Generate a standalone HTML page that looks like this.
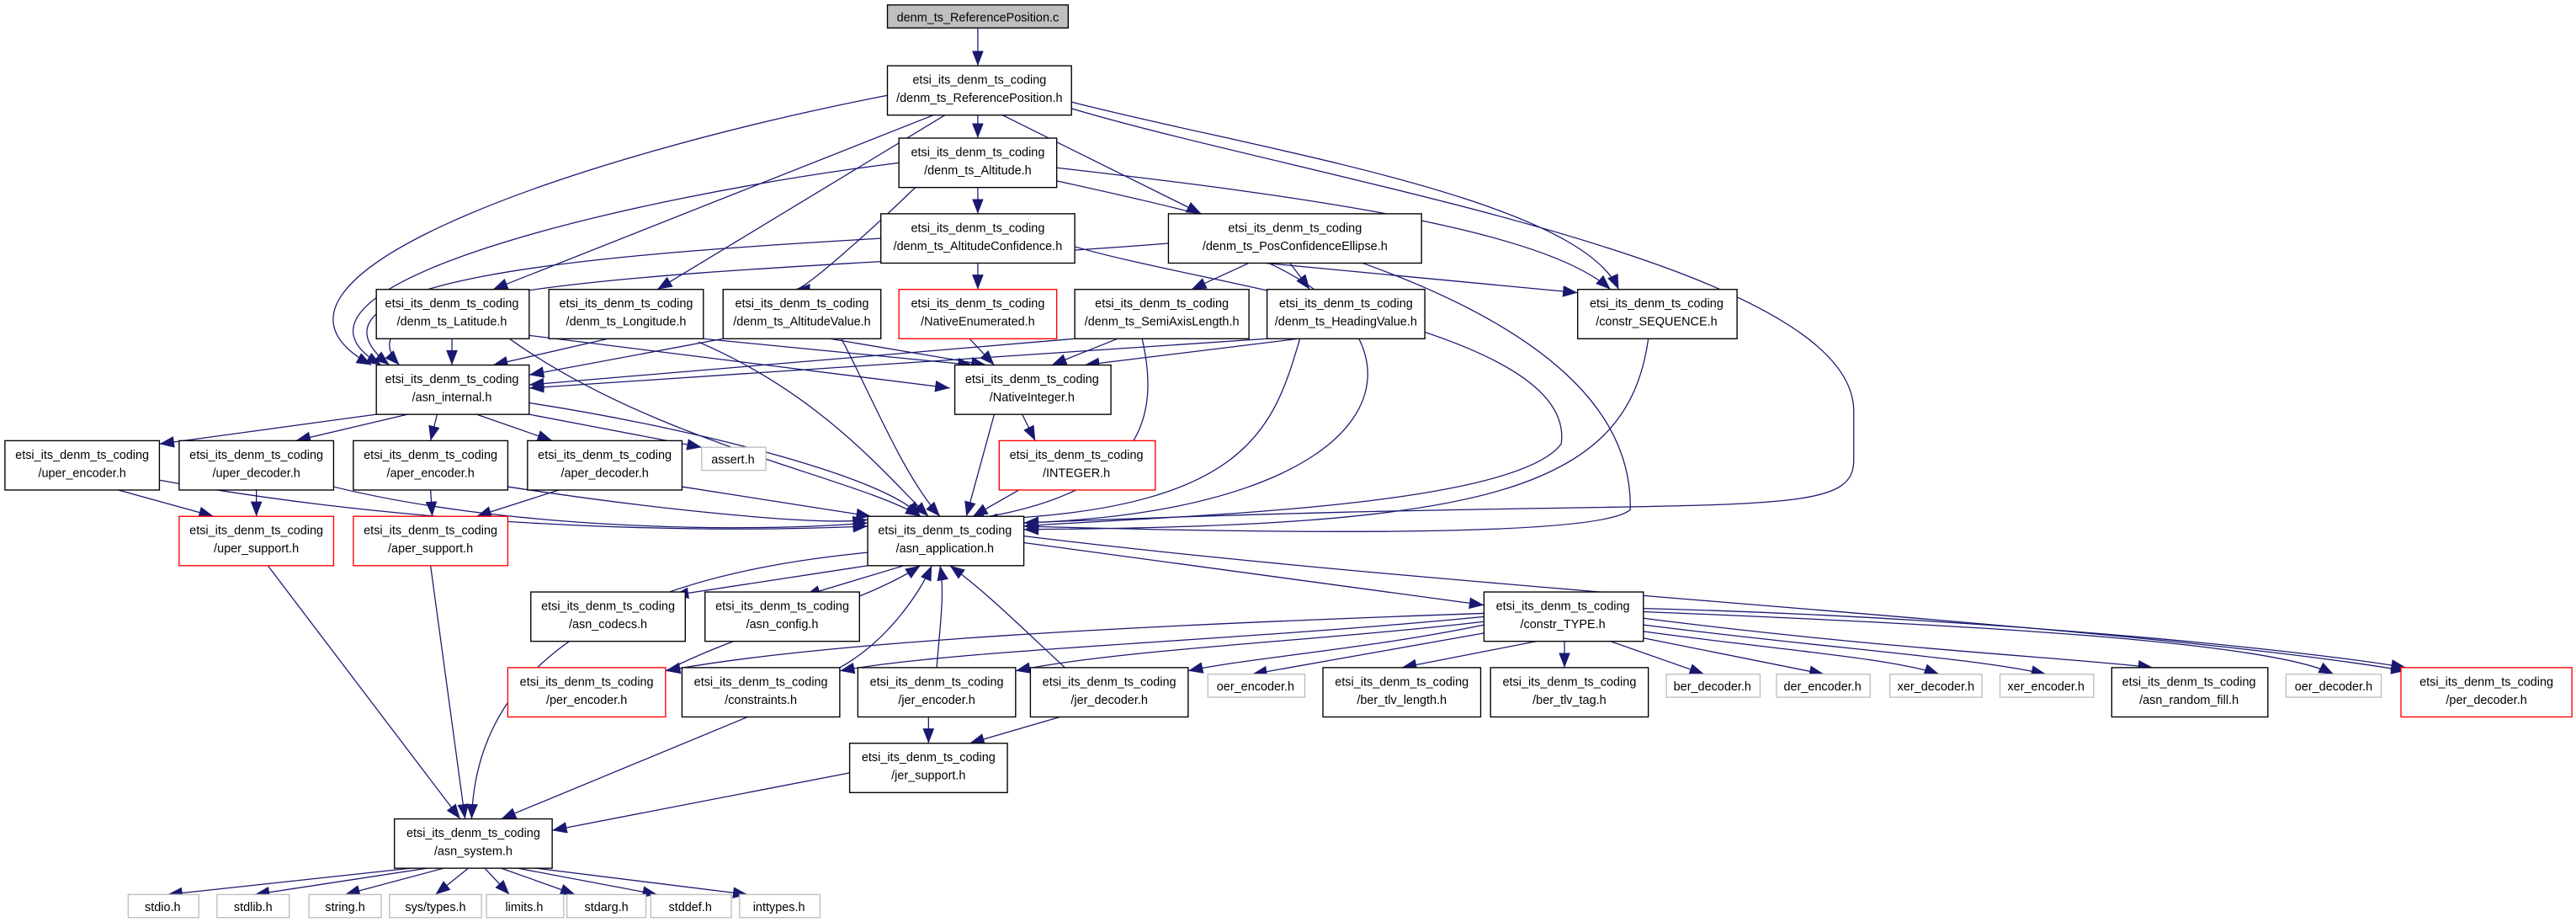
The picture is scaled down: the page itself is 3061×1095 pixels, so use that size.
<!DOCTYPE html>
<html><head><meta charset="utf-8"><style>
html,body{margin:0;padding:0;background:#fff;}
svg{display:block;}
text{font-family:"Liberation Sans","DejaVu Sans",sans-serif;font-size:7.4px;fill:#000;text-anchor:middle;}
.e{fill:none;stroke:#191970;stroke-width:0.65;marker-end:url(#a);}
.n{fill:#fff;stroke:#000;stroke-width:0.7;}
.g{fill:#fff;stroke:#bfbfbf;stroke-width:0.7;}
.r{fill:#fff;stroke:#ff0000;stroke-width:0.7;}
</style></head><body>
<svg width="3061" height="1095" viewBox="0 0 1567.5 560.7" preserveAspectRatio="none" xmlns="http://www.w3.org/2000/svg">
<defs><marker id="a" markerUnits="userSpaceOnUse" markerWidth="10" markerHeight="8" refX="9" refY="3.5" orient="auto"><path d="M0,0L9,3.5L0,7z" fill="#191970"/></marker></defs>
<rect width="1567.5" height="560.7" fill="#fff"/>
<!-- edges -->
<path class="e" d="M595,17 L595,40"/>
<path class="e" d="M595,70 L595,84"/>
<path class="e" d="M610,70 L731,130"/>
<path class="e" d="M568,70 L300,176"/>
<path class="e" d="M575,70 L400,176"/>
<path class="e" d="M540,58 C350,95 130,170 226,222"/>
<path class="e" d="M652,62 C760,90 960,120 985,176"/>
<path class="e" d="M652,66 C800,110 1128,160 1128,250 L1128,280 C1128,320 1050,300 623,318"/>
<path class="e" d="M595,114 L595,130"/>
<path class="e" d="M557,114 C530,140 490,176 484,176"/>
<path class="e" d="M547,99 C380,120 150,175 232,222"/>
<path class="e" d="M643,102 C800,120 940,140 980,176"/>
<path class="e" d="M643,110 C780,140 995,190 992,310 C970,330 700,322 623,320"/>
<path class="e" d="M595,160 L595,176"/>
<path class="e" d="M536,145 C360,155 170,170 237,222"/>
<path class="e" d="M654,150 C740,175 960,200 950,270 C920,310 700,314 623,320"/>
<path class="e" d="M760,160 L725,176"/>
<path class="e" d="M785,160 L797,176"/>
<path class="e" d="M770,160 L960,178"/>
<path class="e" d="M711,148 C500,165 190,165 243,222"/>
<path class="e" d="M772,160 C880,210 850,310 623,318"/>
<path class="e" d="M275,206 L275,222"/>
<path class="e" d="M322,204 L578,236"/>
<path class="e" d="M310,206 C400,270 520,290 560,314"/>
<path class="e" d="M370,206 L300,222"/>
<path class="e" d="M428,206 L592,222"/>
<path class="e" d="M425,208 C500,240 540,290 565,314"/>
<path class="e" d="M440,206 L322,228"/>
<path class="e" d="M505,206 L600,222"/>
<path class="e" d="M512,206 C530,240 550,290 572,314"/>
<path class="e" d="M590,206 L605,222"/>
<path class="e" d="M654,206 L322,234"/>
<path class="e" d="M680,206 L640,222"/>
<path class="e" d="M695,206 C705,250 700,300 590,316"/>
<path class="e" d="M771,206 L322,236"/>
<path class="e" d="M790,206 L660,222"/>
<path class="e" d="M791,206 C775,260 760,310 598,316"/>
<path class="e" d="M1003,206 C990,300 900,320 623,322"/>
<path class="e" d="M622,252 L630,268"/>
<path class="e" d="M605,252 L588,314"/>
<path class="e" d="M620,298 L592,314"/>
<path class="e" d="M229,252 L97,270"/>
<path class="e" d="M248,252 L180,268"/>
<path class="e" d="M266,252 L262,268"/>
<path class="e" d="M290,252 L336,268"/>
<path class="e" d="M322,252 L427,272"/>
<path class="e" d="M322,245 C420,260 540,290 560,314"/>
<path class="e" d="M72,298 L130,314"/>
<path class="e" d="M97,292 C250,320 420,325 528,320"/>
<path class="e" d="M156,298 L156,314"/>
<path class="e" d="M203,296 C300,320 440,325 528,318"/>
<path class="e" d="M262,298 L263,314"/>
<path class="e" d="M309,296 C400,310 500,320 528,316"/>
<path class="e" d="M340,298 L290,314"/>
<path class="e" d="M415,296 L530,314"/>
<path class="e" d="M163,344 L280,498"/>
<path class="e" d="M262,344 L283,498"/>
<path class="e" d="M528,336 C380,350 290,400 287,498"/>
<path class="e" d="M528,344 L410,362"/>
<path class="e" d="M550,344 L490,362"/>
<path class="e" d="M623,330 L903,368"/>
<path class="e" d="M623,326 C900,360 1300,380 1464,408"/>
<path class="e" d="M405,408 C460,380 520,370 560,344"/>
<path class="e" d="M511,406 C540,390 560,360 567,344"/>
<path class="e" d="M570,406 C572,380 575,360 572,344"/>
<path class="e" d="M648,406 C620,380 600,360 578,344"/>
<path class="e" d="M903,373 C700,380 500,390 405,408"/>
<path class="e" d="M903,375 C750,390 580,395 511,408"/>
<path class="e" d="M903,378 C800,390 680,395 618,408"/>
<path class="e" d="M903,380 C830,395 760,400 723,408"/>
<path class="e" d="M903,385 L762,410"/>
<path class="e" d="M935,390 L853,406"/>
<path class="e" d="M952,390 L952,406"/>
<path class="e" d="M980,390 L1037,410"/>
<path class="e" d="M1000,388 L1110,410"/>
<path class="e" d="M1000,384 C1080,395 1150,400 1180,410"/>
<path class="e" d="M1000,380 C1120,395 1200,400 1245,410"/>
<path class="e" d="M1000,376 C1150,395 1260,400 1310,406"/>
<path class="e" d="M1000,372 C1200,380 1380,390 1420,410"/>
<path class="e" d="M1000,370 C1200,375 1400,395 1464,406"/>
<path class="e" d="M455,436 L305,498"/>
<path class="e" d="M565,436 L565,452"/>
<path class="e" d="M645,436 L590,452"/>
<path class="e" d="M517,470 L336,505"/>
<path class="e" d="M250,528 L102,544"/>
<path class="e" d="M260,528 L155,544"/>
<path class="e" d="M270,528 L210,544"/>
<path class="e" d="M285,528 L265,544"/>
<path class="e" d="M295,528 L310,544"/>
<path class="e" d="M305,528 L350,544"/>
<path class="e" d="M315,528 L400,544"/>
<path class="e" d="M326,528 L455,544"/>
<!-- nodes -->
<rect x="540" y="3" width="110" height="14" fill="#bfbfbf" stroke="#000" stroke-width="0.7"/><text x="595" y="13">denm_ts_ReferencePosition.c</text>
<rect class="n" x="540" y="40" width="112" height="30"/><text x="596" y="51">etsi_its_denm_ts_coding</text><text x="596" y="62">/denm_ts_ReferencePosition.h</text>
<rect class="n" x="547" y="84" width="96" height="30"/><text x="595" y="95">etsi_its_denm_ts_coding</text><text x="595" y="106">/denm_ts_Altitude.h</text>
<rect class="n" x="536" y="130" width="118" height="30"/><text x="595" y="141">etsi_its_denm_ts_coding</text><text x="595" y="152">/denm_ts_AltitudeConfidence.h</text>
<rect class="n" x="711" y="130" width="154" height="30"/><text x="788" y="141">etsi_its_denm_ts_coding</text><text x="788" y="152">/denm_ts_PosConfidenceEllipse.h</text>
<rect class="n" x="229" y="176" width="93" height="30"/><text x="275" y="187">etsi_its_denm_ts_coding</text><text x="275" y="198">/denm_ts_Latitude.h</text>
<rect class="n" x="334" y="176" width="94" height="30"/><text x="381" y="187">etsi_its_denm_ts_coding</text><text x="381" y="198">/denm_ts_Longitude.h</text>
<rect class="n" x="440" y="176" width="96" height="30"/><text x="488" y="187">etsi_its_denm_ts_coding</text><text x="488" y="198">/denm_ts_AltitudeValue.h</text>
<rect class="r" x="547" y="176" width="96" height="30"/><text x="595" y="187">etsi_its_denm_ts_coding</text><text x="595" y="198">/NativeEnumerated.h</text>
<rect class="n" x="654" y="176" width="106" height="30"/><text x="707" y="187">etsi_its_denm_ts_coding</text><text x="707" y="198">/denm_ts_SemiAxisLength.h</text>
<rect class="n" x="771" y="176" width="96" height="30"/><text x="819" y="187">etsi_its_denm_ts_coding</text><text x="819" y="198">/denm_ts_HeadingValue.h</text>
<rect class="n" x="960" y="176" width="97" height="30"/><text x="1008" y="187">etsi_its_denm_ts_coding</text><text x="1008" y="198">/constr_SEQUENCE.h</text>
<rect class="n" x="229" y="222" width="93" height="30"/><text x="275" y="233">etsi_its_denm_ts_coding</text><text x="275" y="244">/asn_internal.h</text>
<rect class="n" x="581" y="222" width="95" height="30"/><text x="628" y="233">etsi_its_denm_ts_coding</text><text x="628" y="244">/NativeInteger.h</text>
<rect class="n" x="3" y="268" width="94" height="30"/><text x="50" y="279">etsi_its_denm_ts_coding</text><text x="50" y="290">/uper_encoder.h</text>
<rect class="n" x="109" y="268" width="94" height="30"/><text x="156" y="279">etsi_its_denm_ts_coding</text><text x="156" y="290">/uper_decoder.h</text>
<rect class="n" x="215" y="268" width="94" height="30"/><text x="262" y="279">etsi_its_denm_ts_coding</text><text x="262" y="290">/aper_encoder.h</text>
<rect class="n" x="321" y="268" width="94" height="30"/><text x="368" y="279">etsi_its_denm_ts_coding</text><text x="368" y="290">/aper_decoder.h</text>
<rect class="g" x="427" y="272" width="39" height="14"/><text x="446" y="282">assert.h</text>
<rect class="r" x="608" y="268" width="95" height="30"/><text x="655" y="279">etsi_its_denm_ts_coding</text><text x="655" y="290">/INTEGER.h</text>
<rect class="r" x="109" y="314" width="94" height="30"/><text x="156" y="325">etsi_its_denm_ts_coding</text><text x="156" y="336">/uper_support.h</text>
<rect class="r" x="215" y="314" width="94" height="30"/><text x="262" y="325">etsi_its_denm_ts_coding</text><text x="262" y="336">/aper_support.h</text>
<rect class="n" x="528" y="314" width="95" height="30"/><text x="575" y="325">etsi_its_denm_ts_coding</text><text x="575" y="336">/asn_application.h</text>
<rect class="n" x="323" y="360" width="94" height="30"/><text x="370" y="371">etsi_its_denm_ts_coding</text><text x="370" y="382">/asn_codecs.h</text>
<rect class="n" x="429" y="360" width="94" height="30"/><text x="476" y="371">etsi_its_denm_ts_coding</text><text x="476" y="382">/asn_config.h</text>
<rect class="n" x="903" y="360" width="97" height="30"/><text x="951" y="371">etsi_its_denm_ts_coding</text><text x="951" y="382">/constr_TYPE.h</text>
<rect class="r" x="309" y="406" width="96" height="30"/><text x="357" y="417">etsi_its_denm_ts_coding</text><text x="357" y="428">/per_encoder.h</text>
<rect class="n" x="415" y="406" width="96" height="30"/><text x="463" y="417">etsi_its_denm_ts_coding</text><text x="463" y="428">/constraints.h</text>
<rect class="n" x="522" y="406" width="96" height="30"/><text x="570" y="417">etsi_its_denm_ts_coding</text><text x="570" y="428">/jer_encoder.h</text>
<rect class="n" x="627" y="406" width="96" height="30"/><text x="675" y="417">etsi_its_denm_ts_coding</text><text x="675" y="428">/jer_decoder.h</text>
<rect class="g" x="735" y="410" width="59" height="14"/><text x="764" y="420">oer_encoder.h</text>
<rect class="n" x="805" y="406" width="96" height="30"/><text x="853" y="417">etsi_its_denm_ts_coding</text><text x="853" y="428">/ber_tlv_length.h</text>
<rect class="n" x="907" y="406" width="96" height="30"/><text x="955" y="417">etsi_its_denm_ts_coding</text><text x="955" y="428">/ber_tlv_tag.h</text>
<rect class="g" x="1014" y="410" width="57" height="14"/><text x="1042" y="420">ber_decoder.h</text>
<rect class="g" x="1081" y="410" width="57" height="14"/><text x="1109" y="420">der_encoder.h</text>
<rect class="g" x="1150" y="410" width="56" height="14"/><text x="1178" y="420">xer_decoder.h</text>
<rect class="g" x="1217" y="410" width="57" height="14"/><text x="1245" y="420">xer_encoder.h</text>
<rect class="n" x="1285" y="406" width="95" height="30"/><text x="1332" y="417">etsi_its_denm_ts_coding</text><text x="1332" y="428">/asn_random_fill.h</text>
<rect class="g" x="1391" y="410" width="58" height="14"/><text x="1420" y="420">oer_decoder.h</text>
<rect class="r" x="1461" y="406" width="104" height="30"/><text x="1513" y="417">etsi_its_denm_ts_coding</text><text x="1513" y="428">/per_decoder.h</text>
<rect class="n" x="517" y="452" width="96" height="30"/><text x="565" y="463">etsi_its_denm_ts_coding</text><text x="565" y="474">/jer_support.h</text>
<rect class="n" x="240" y="498" width="96" height="30"/><text x="288" y="509">etsi_its_denm_ts_coding</text><text x="288" y="520">/asn_system.h</text>
<rect class="g" x="78" y="544" width="43" height="14"/><text x="99" y="554">stdio.h</text>
<rect class="g" x="132" y="544" width="44" height="14"/><text x="154" y="554">stdlib.h</text>
<rect class="g" x="188" y="544" width="44" height="14"/><text x="210" y="554">string.h</text>
<rect class="g" x="237" y="544" width="56" height="14"/><text x="265" y="554">sys/types.h</text>
<rect class="g" x="296" y="544" width="47" height="14"/><text x="319" y="554">limits.h</text>
<rect class="g" x="345" y="544" width="48" height="14"/><text x="369" y="554">stdarg.h</text>
<rect class="g" x="396" y="544" width="49" height="14"/><text x="420" y="554">stddef.h</text>
<rect class="g" x="450" y="544" width="49" height="14"/><text x="474" y="554">inttypes.h</text>
</svg>
</body></html>
